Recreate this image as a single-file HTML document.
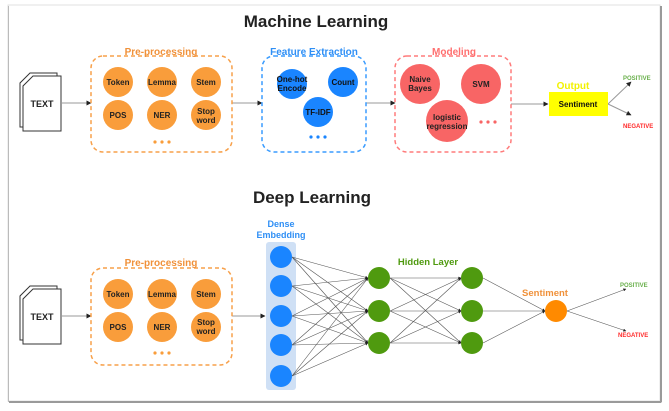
<!DOCTYPE html>
<html><head><meta charset="utf-8"><style>
html,body{margin:0;padding:0;background:#fff;}
svg{display:block;font-family:"Liberation Sans",Arial,sans-serif;}
</style></head><body>
<svg width="669" height="411" viewBox="0 0 669 411" xmlns="http://www.w3.org/2000/svg">
<defs>
<marker id="a" markerWidth="5" markerHeight="5" refX="4.5" refY="2.5" orient="auto"><path d="M0,0 L5,2.5 L0,5z" fill="#222"/></marker>
</defs>
<!-- frame -->
<rect x="10" y="7" width="652" height="396" fill="#d8d8d8"/>
<rect x="8" y="5" width="652" height="396" fill="#fff" stroke="#e2e2e2" stroke-width="1"/>
<line x1="661" y1="6" x2="661" y2="402" stroke="#9a9a9a" stroke-width="2"/>
<line x1="9" y1="402" x2="661" y2="402" stroke="#9a9a9a" stroke-width="2"/>
<line x1="8.5" y1="6" x2="8.5" y2="402" stroke="#bbb" stroke-width="1"/>

<text x="316" y="27" font-size="17" font-weight="bold" text-anchor="middle" fill="#222">Machine Learning</text>
<text x="312" y="203" font-size="17" font-weight="bold" text-anchor="middle" fill="#222">Deep Learning</text>

<!-- TEXT docs -->
<g fill="#fff" stroke="#333" stroke-width="1">
<path d="M30,73 L57,73 L57,127 L20,127 L20,83 Z"/>
<path d="M33,76 L61,76 L61,131 L23,131 L23,86 Z"/>
<path d="M30,286 L57,286 L57,340 L20,340 L20,296 Z"/>
<path d="M33,289 L61,289 L61,344 L23,344 L23,299 Z"/>
</g>
<g font-size="9" font-weight="bold" text-anchor="middle" fill="#222">
<text x="42" y="107">TEXT</text>
<text x="42" y="320">TEXT</text>
</g>

<!-- arrows top -->
<g stroke="#999" stroke-width="1" marker-end="url(#a)">
<line x1="62" y1="103" x2="91" y2="103"/>
<line x1="232" y1="103" x2="262" y2="103"/>
<line x1="366" y1="103" x2="395" y2="103"/>
<line x1="511" y1="104" x2="548" y2="104"/>
<line x1="608" y1="104" x2="631" y2="82"/>
<line x1="608" y1="104" x2="631" y2="115"/>
<line x1="62" y1="316" x2="91" y2="316"/>
<line x1="232" y1="316" x2="265" y2="316"/>
</g>

<!-- boxes -->
<g fill="none" stroke-width="1.5" stroke-dasharray="4,3">
<rect x="91" y="56" width="141" height="96" rx="12" stroke="#f7a04a"/>
<rect x="262" y="56" width="104" height="96" rx="12" stroke="#3a9cff"/>
<rect x="395" y="56" width="116" height="96" rx="12" stroke="#ff7b7b"/>
<rect x="91" y="268" width="141" height="97" rx="12" stroke="#f7a04a"/>
</g>
<g font-size="10" font-weight="bold" text-anchor="middle">
<text x="161" y="55" fill="#f0913a">Pre-processing</text>
<text x="314" y="55" fill="#2f8ff5">Feature Extraction</text>
<text x="454" y="55" fill="#ff6f6f">Modeling</text>
<text x="161" y="266" fill="#f0913a">Pre-processing</text>
</g>

<!-- preprocessing circles -->
<g fill="#f99d3b">
<circle cx="118" cy="82" r="15"/><circle cx="162" cy="82" r="15"/><circle cx="206" cy="82" r="15"/>
<circle cx="118" cy="115" r="15"/><circle cx="162" cy="115" r="15"/><circle cx="206" cy="115" r="15"/>
<circle cx="118" cy="294" r="15"/><circle cx="162" cy="294" r="15"/><circle cx="206" cy="294" r="15"/>
<circle cx="118" cy="327" r="15"/><circle cx="162" cy="327" r="15"/><circle cx="206" cy="327" r="15"/>
</g>
<g font-size="8" font-weight="bold" text-anchor="middle" fill="#222">
<text x="118" y="85">Token</text><text x="162" y="85">Lemma</text><text x="206" y="85">Stem</text>
<text x="118" y="118">POS</text><text x="162" y="118">NER</text><text x="206" y="114">Stop</text><text x="206" y="123">word</text>
<text x="118" y="297">Token</text><text x="162" y="297">Lemma</text><text x="206" y="297">Stem</text>
<text x="118" y="330">POS</text><text x="162" y="330">NER</text><text x="206" y="325">Stop</text><text x="206" y="334">word</text>
</g>
<g fill="#f99d3b">
<circle cx="155" cy="142" r="1.6"/><circle cx="162" cy="142" r="1.6"/><circle cx="169" cy="142" r="1.6"/>
<circle cx="155" cy="353" r="1.6"/><circle cx="162" cy="353" r="1.6"/><circle cx="169" cy="353" r="1.6"/>
</g>

<!-- feature circles -->
<g fill="#1a85ff">
<circle cx="292" cy="84" r="15"/><circle cx="343" cy="82" r="15"/><circle cx="318" cy="112" r="15"/>
<circle cx="311" cy="137" r="1.6"/><circle cx="318" cy="137" r="1.6"/><circle cx="325" cy="137" r="1.6"/>
</g>
<g font-size="8" font-weight="bold" text-anchor="middle" fill="#111">
<text x="292" y="82">One-hot</text><text x="292" y="91">Encode</text>
<text x="343" y="85">Count</text><text x="318" y="115">TF-IDF</text>
</g>

<!-- modeling circles -->
<g fill="#f86565">
<circle cx="420" cy="84" r="20"/><circle cx="481" cy="84" r="20"/><circle cx="447" cy="121" r="21"/>
<circle cx="481" cy="122" r="1.6"/><circle cx="488" cy="122" r="1.6"/><circle cx="495" cy="122" r="1.6"/>
</g>
<g font-size="8" font-weight="bold" text-anchor="middle" fill="#222">
<text x="420" y="82">Naive</text><text x="420" y="91">Bayes</text>
<text x="481" y="87">SVM</text>
<text x="447" y="120">logistic</text><text x="447" y="129">regression</text>
</g>

<!-- output -->
<rect x="549" y="92" width="59" height="24" fill="#ffff00"/>
<text x="573" y="89" font-size="10" font-weight="bold" fill="#f2f200" text-anchor="middle">Output</text>
<text x="578" y="107" font-size="8" font-weight="bold" fill="#111" text-anchor="middle">Sentiment</text>
<text x="623" y="80" font-size="6" font-weight="bold" fill="#6ab04c">POSITIVE</text>
<text x="623" y="128" font-size="6" font-weight="bold" fill="#ff2a2a">NEGATIVE</text>

<!-- deep learning network -->
<rect x="266" y="242" width="30" height="148" rx="3" fill="#cfe0f5"/>
<text x="281" y="227" font-size="9" font-weight="bold" fill="#2f8ff5" text-anchor="middle">Dense</text>
<text x="281" y="238" font-size="9" font-weight="bold" fill="#2f8ff5" text-anchor="middle">Embedding</text>
<text x="428" y="265" font-size="9.5" font-weight="bold" fill="#4f9a0f" text-anchor="middle">Hidden Layer</text>
<text x="545" y="296" font-size="9.5" font-weight="bold" fill="#f0913a" text-anchor="middle">Sentiment</text>

<g stroke="#555" stroke-width="0.6" marker-end="url(#a)">
<line x1="292" y1="257" x2="368" y2="278"/><line x1="292" y1="257" x2="368" y2="311"/><line x1="292" y1="257" x2="368" y2="343"/>
<line x1="292" y1="286" x2="368" y2="278"/><line x1="292" y1="286" x2="368" y2="311"/><line x1="292" y1="286" x2="368" y2="343"/>
<line x1="292" y1="316" x2="368" y2="278"/><line x1="292" y1="316" x2="368" y2="311"/><line x1="292" y1="316" x2="368" y2="343"/>
<line x1="292" y1="345" x2="368" y2="278"/><line x1="292" y1="345" x2="368" y2="311"/><line x1="292" y1="345" x2="368" y2="343"/>
<line x1="292" y1="376" x2="368" y2="278"/><line x1="292" y1="376" x2="368" y2="311"/><line x1="292" y1="376" x2="368" y2="343"/>
<line x1="390" y1="278" x2="461" y2="278"/><line x1="390" y1="278" x2="461" y2="311"/><line x1="390" y1="278" x2="461" y2="343"/>
<line x1="390" y1="311" x2="461" y2="278"/><line x1="390" y1="311" x2="461" y2="311"/><line x1="390" y1="311" x2="461" y2="343"/>
<line x1="390" y1="343" x2="461" y2="278"/><line x1="390" y1="343" x2="461" y2="311"/><line x1="390" y1="343" x2="461" y2="343"/>
<line x1="483" y1="278" x2="545" y2="311"/><line x1="483" y1="311" x2="545" y2="311"/><line x1="483" y1="343" x2="545" y2="311"/>
<line x1="567" y1="311" x2="626" y2="289"/><line x1="567" y1="311" x2="626" y2="331"/>
</g>
<g fill="#1a85ff">
<circle cx="281" cy="257" r="11"/><circle cx="281" cy="286" r="11"/><circle cx="281" cy="316" r="11"/><circle cx="281" cy="345" r="11"/><circle cx="281" cy="376" r="11"/>
</g>
<g fill="#4f9a0f">
<circle cx="379" cy="278" r="11"/><circle cx="379" cy="311" r="11"/><circle cx="379" cy="343" r="11"/>
<circle cx="472" cy="278" r="11"/><circle cx="472" cy="311" r="11"/><circle cx="472" cy="343" r="11"/>
</g>
<circle cx="556" cy="311" r="11" fill="#ff8a00"/>
<text x="620" y="287" font-size="6" font-weight="bold" fill="#6ab04c">POSITIVE</text>
<text x="618" y="337" font-size="6" font-weight="bold" fill="#ff2a2a">NEGATIVE</text>
</svg>
</body></html>
